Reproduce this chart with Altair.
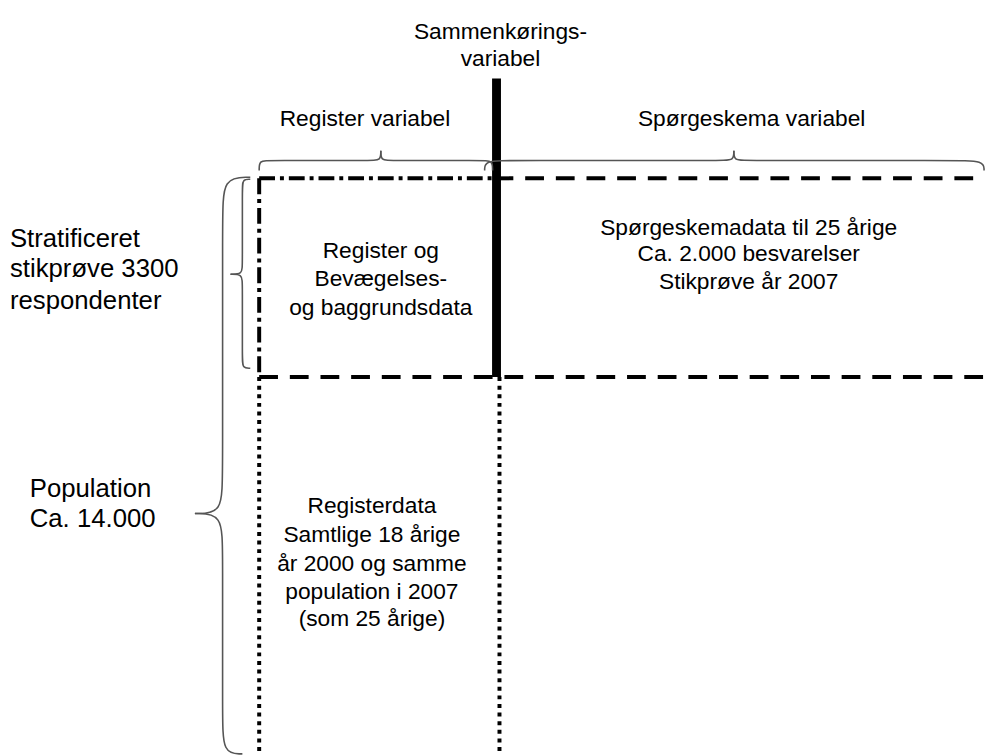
import altair as alt
import pandas as pd

# ---------------- data (image pixel coordinates) ----------------
# dash-dot outline of the register/sample box (x1, y1, x2, y2)
dashdot_x1 = [262, 262]
dashdot_y1 = [176, 176]
dashdot_x2 = [500, 262]
dashdot_y2 = [176, 377]

# dashed lines
dashed_x1 = [500, 262]
dashed_y1 = [176, 377]
dashed_x2 = [996, 996]
dashed_y2 = [176, 377]

# dotted lines
dotted_x1 = [262, 505]
dotted_y1 = [377, 377]
dotted_x2 = [262, 505]
dotted_y2 = [760, 760]

# thick "Sammenkørings-variabel" bar
bar_x = [502]
bar_y1 = [75]
bar_y2 = [377]

# curly braces: control points of each half (basis-interpolated)
brace_halves = {
    "A1": ([262, 262, 272, 375, 385, 385], [168, 158, 158, 158, 158, 148]),
    "A2": ([498, 498, 488, 395, 385, 385], [168, 158, 158, 158, 158, 148]),
    "B1": ([490, 490, 515, 730, 742, 742], [168, 158, 158, 158, 158, 148]),
    "B2": ([995, 995, 965, 754, 742, 742], [168, 158, 158, 158, 158, 148]),
    "C1": ([253, 245, 245, 245, 245, 233], [177, 177, 187, 263, 273, 273]),
    "C2": ([253, 245, 245, 245, 245, 233], [368, 368, 358, 283, 273, 273]),
    "D1": ([253, 225, 225, 225, 225, 197], [175, 175, 215, 475, 515, 515]),
    "D2": ([245, 225, 225, 225, 225, 197], [758, 758, 718, 555, 515, 515]),
}

# centred texts
center_text = [
    "Sammenkørings-", "variabel",
    "Register variabel", "Spørgeskema variabel",
    "Register og", "Bevægelses-", "og baggrundsdata",
    "Spørgeskemadata til 25 årige", "Ca. 2.000 besvarelser", "Stikprøve år 2007",
    "Registerdata", "Samtlige 18 årige", "år 2000 og samme", "population i 2007", "(som 25 årige)",
]
center_x = [506, 506, 369, 760, 385, 385, 385, 757, 757, 757, 376, 376, 376, 376, 376]
center_y = [28, 55, 116, 116, 250, 278, 307, 226, 253, 281, 507, 537, 566, 594, 622]

# left-side labels
side_text = ["Stratificeret", "stikprøve 3300", "respondenter", "Population", "Ca. 14.000"]
side_x = [10, 10, 10, 30, 30]
side_y = [237, 268, 300, 490, 521]

# ---------------- chart ----------------
xs = alt.Scale(domain=[8, 988], nice=False, zero=False)
ys = alt.Scale(domain=[8, 748], nice=False, zero=False, reverse=True)


def seg_df(x1, y1, x2, y2):
    return pd.DataFrame({"x": x1, "y": y1, "x2": x2, "y2": y2})


def rules(df, **kw):
    return alt.Chart(df).mark_rule(color="black", **kw).encode(
        x=alt.X("x:Q", scale=xs, axis=None),
        y=alt.Y("y:Q", scale=ys, axis=None),
        x2="x2:Q",
        y2="y2:Q",
    )


dotted = rules(seg_df(dotted_x1, dotted_y1, dotted_x2, dotted_y2),
               strokeWidth=4, strokeDash=[4, 4.7])
dashed = rules(seg_df(dashed_x1, dashed_y1, dashed_x2, dashed_y2),
               strokeWidth=4, strokeDash=[19, 12])
dashdot = rules(seg_df(dashdot_x1, dashdot_y1, dashdot_x2, dashdot_y2),
                strokeWidth=4, strokeDash=[16, 5, 4, 5])
bar = rules(seg_df(bar_x, bar_y1, bar_x, bar_y2), strokeWidth=9)

rows = []
for hid, (bx, by) in brace_halves.items():
    for i, (px, py) in enumerate(zip(bx, by)):
        rows.append({"half": hid, "ord": i, "x": px, "y": py})
brace_df = pd.DataFrame(rows)

braces = alt.Chart(brace_df).mark_line(
    color="#555555", strokeWidth=1.6, interpolate="basis"
).encode(
    x=alt.X("x:Q", scale=xs, axis=None),
    y=alt.Y("y:Q", scale=ys, axis=None),
    detail="half:N",
    order="ord:Q",
)

ctext = alt.Chart(pd.DataFrame({"t": center_text, "x": center_x, "y": center_y})).mark_text(
    font="Liberation Sans", fontSize=23, align="center", baseline="middle", color="black"
).encode(
    x=alt.X("x:Q", scale=xs, axis=None),
    y=alt.Y("y:Q", scale=ys, axis=None),
    text="t:N",
)

stext = alt.Chart(pd.DataFrame({"t": side_text, "x": side_x, "y": side_y})).mark_text(
    font="Liberation Sans", fontSize=26, align="left", baseline="middle", color="black"
).encode(
    x=alt.X("x:Q", scale=xs, axis=None),
    y=alt.Y("y:Q", scale=ys, axis=None),
    text="t:N",
)

chart = alt.layer(dotted, dashed, dashdot, bar, braces, ctext, stext).properties(
    width=980, height=740, padding=0, background="white"
).configure_view(stroke=None)

chart.save("out.html", embed_options={"renderer": "svg", "actions": False})
